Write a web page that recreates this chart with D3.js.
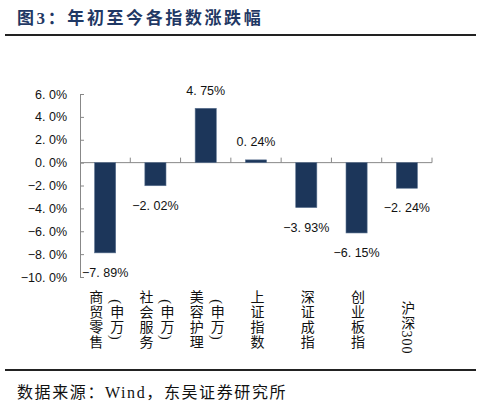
<!DOCTYPE html>
<html>
<head>
<meta charset="utf-8">
<script src="https://cdn.jsdelivr.net/npm/d3@7"></script>
<style>
  body { margin: 0; background: #fff; }
  svg { display: block; }
</style>
</head>
<body>
<svg width="481" height="417"></svg>
<script>
const categories = [
  ["商贸零售", "(申万)"],
  ["社会服务", "(申万)"],
  ["美容护理", "(申万)"],
  ["上证指数"],
  ["深证成指"],
  ["创业板指"],
  ["沪深300"]
];
const values = [-7.89, -2.02, 4.75, 0.24, -3.93, -6.15, -2.24];
const yTicks = [6, 4, 2, 0, -2, -4, -6, -8, -10];

const svg = d3.select("svg");
const BAR_COLOR = "#1c365a";
const serif = "'Liberation Serif','DejaVu Serif','Noto Sans CJK SC',serif";
const sans = "'Liberation Sans',Arial,'Noto Sans CJK SC',sans-serif";

// title + rules
svg.append("text")
  .attr("x", 17).attr("y", 24)
  .attr("font-family", serif).attr("font-weight", "bold")
  .attr("font-size", 17).attr("fill", "#1f3864")
  .attr("letter-spacing", 2.6)
  .text("图3：年初至今各指数涨跌幅");
svg.append("line").attr("x1", 5).attr("x2", 476).attr("y1", 35).attr("y2", 35)
  .attr("stroke", "#222").attr("stroke-width", 2);
svg.append("line").attr("x1", 5).attr("x2", 476).attr("y1", 370).attr("y2", 370)
  .attr("stroke", "#222").attr("stroke-width", 2);
svg.append("text")
  .attr("x", 17).attr("y", 398)
  .attr("font-family", serif).attr("font-size", 16).attr("fill", "#111")
  .attr("letter-spacing", 1.6)
  .text("数据来源：Wind，东吴证券研究所");

var x = d3.scaleBand().domain(d3.range(categories.length)).range([80, 432]).paddingInner(0.58).paddingOuter(0.29);
var y = d3.scaleLinear().domain([-10, 6]).range([277, 94]);

// y axis
const yAxis = svg.append("g").attr("transform", "translate(80,0)")
  .call(d3.axisLeft(y).tickValues(yTicks).tickSize(-4).tickPadding(13)
    .tickFormat(function (d) { return d3.format(".1f")(d).replace("-", "\u2212").replace(".", ". ") + "%"; }));
yAxis.select(".domain").attr("stroke", "#888");
yAxis.selectAll(".tick line").attr("stroke", "#888");
yAxis.selectAll("text").attr("font-family", sans).attr("font-size", 12.5).attr("fill", "#111");

// zero line with category separators
const step = x.step();
svg.append("line").attr("x1", 80).attr("x2", 432).attr("y1", y(0)).attr("y2", y(0))
  .attr("stroke", "#888");
svg.append("g").selectAll("line")
  .data(d3.range(1, categories.length + 1))
  .join("line")
  .attr("x1", function (d) { return 80 + d * step; })
  .attr("x2", function (d) { return 80 + d * step; })
  .attr("y1", y(0) - 5).attr("y2", y(0))
  .attr("stroke", "#888");

// bars
svg.append("g").selectAll("rect")
  .data(values)
  .join("rect")
  .attr("x", function (d, i) { return x(i); })
  .attr("width", x.bandwidth())
  .attr("y", function (d) { return y(Math.max(0, d)); })
  .attr("height", function (d) { return Math.abs(y(d) - y(0)); })
  .attr("fill", BAR_COLOR)
  .attr("stroke", "#5b7290").attr("stroke-width", 0.6);

// value labels
svg.append("g").selectAll("text")
  .data(values)
  .join("text")
  .attr("x", function (d, i) { return x(i) + x.bandwidth() / 2; })
  .attr("y", function (d) { return d >= 0 ? y(d) - 13.5 : y(d) + 24; })
  .attr("text-anchor", "middle")
  .attr("font-family", sans).attr("font-size", 12.5).attr("fill", "#111")
  .text(function (d) { return d3.format(".2f")(d).replace("-", "\u2212").replace(".", ". ") + "%"; });

// vertical category labels
const labelTop = 290;
const charH = 15;
categories.forEach(function (lines, i) {
  const cx = x(i) + x.bandwidth() / 2;
  const n = lines.length;
  const blockLen = lines[0].length * charH;
  lines.forEach(function (s, j) {
    const colX = cx + (j - (n - 1) / 2) * 21;
    svg.append("text")
      .attr("x", colX)
      .attr("y", labelTop + blockLen / 2)
      .attr("text-anchor", "middle")
      .style("writing-mode", "vertical-lr")
      .attr("font-family", serif).attr("font-size", 14).attr("fill", "#111")
      .attr("letter-spacing", 1)
      .text(s);
  });
});
</script>
</body>
</html>
